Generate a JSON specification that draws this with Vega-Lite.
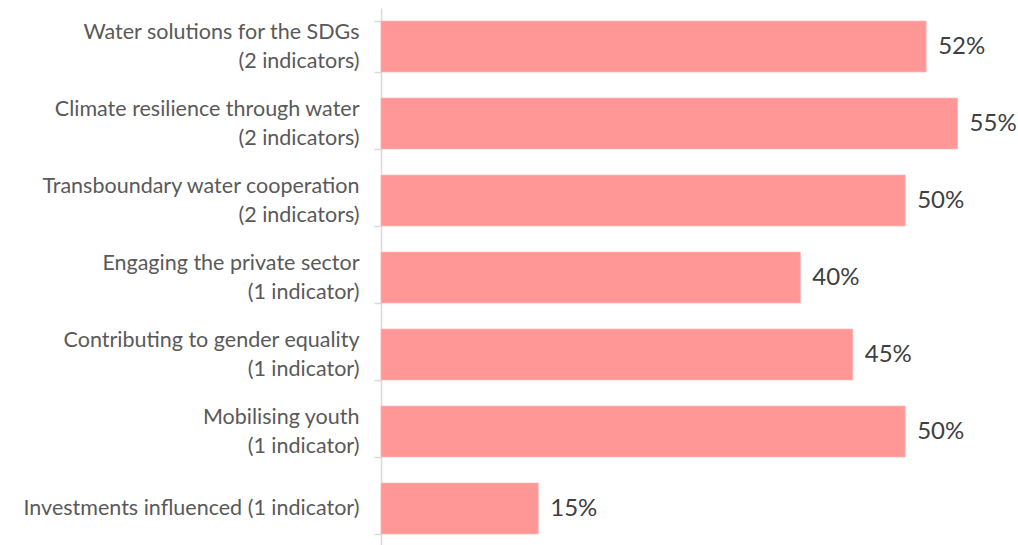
{
  "$schema": "https://vega.github.io/schema/vega-lite/v6.json",
  "autosize": {"type": "none"},
  "padding": {"left": 381, "top": 8, "right": 8, "bottom": 0},
  "width": 629,
  "height": 539,
  "background": "white",
  "data": {
    "values": [
      {"category": "Water solutions for the SDGs|(2 indicators)", "value": 0.52},
      {"category": "Climate resilience through water|(2 indicators)", "value": 0.55},
      {"category": "Transboundary water cooperation|(2 indicators)", "value": 0.50},
      {"category": "Engaging the private sector|(1 indicator)", "value": 0.40},
      {"category": "Contributing to gender equality|(1 indicator)", "value": 0.45},
      {"category": "Mobilising youth|(1 indicator)", "value": 0.50},
      {"category": "Investments influenced (1 indicator)", "value": 0.15}
    ]
  },
  "encoding": {
    "y": {
      "field": "category",
      "type": "nominal",
      "sort": null,
      "scale": {"paddingInner": 0.34, "paddingOuter": 0.17},
      "axis": {
        "title": null,
        "labelExpr": "split(datum.label, '|')",
        "labelFont": "Lato",
        "labelFontSize": 21.5,
        "labelColor": "#595959",
        "labelLineHeight": 29,
        "labelPadding": 15,
        "labelLimit": 400,
        "labelBaseline": {"condition": {"test": "test(/[|]/, '' + datum.value)", "value": "line-bottom"}, "value": "middle"},
        "domainColor": "#D9D9D9",
        "domainWidth": 1.5,
        "tickColor": "#D9D9D9",
        "tickWidth": 1.5,
        "tickSize": 7,
        "tickBand": "extent"
      }
    },
    "x": {
      "field": "value",
      "type": "quantitative",
      "scale": {"domain": [0, 0.6], "nice": false},
      "axis": null
    }
  },
  "layer": [
    {"mark": {"type": "bar", "color": "#FF9797", "stroke": "#FFB3B3", "strokeWidth": 0.8}},
    {
      "mark": {"type": "text", "align": "left", "baseline": "middle", "dx": 12, "font": "Lato", "fontSize": 24, "color": "#404040"},
      "encoding": {"text": {"field": "value", "type": "quantitative", "format": ".0%"}}
    }
  ],
  "config": {"view": {"stroke": null}}
}
